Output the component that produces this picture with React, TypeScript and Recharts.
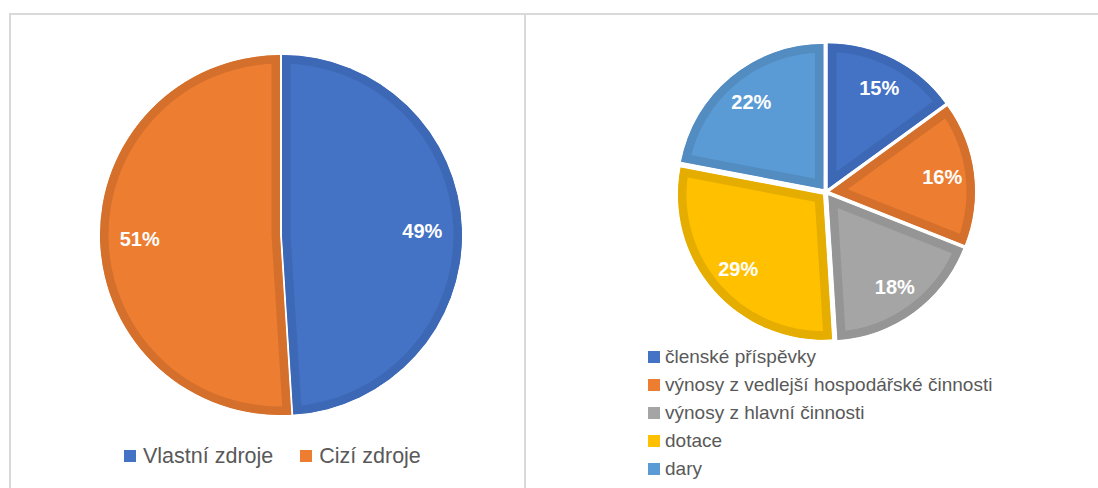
import React from "react";
import { PieChart, Pie, Sector, Legend } from "recharts";

// zdroje financování
const sourceNames = ["Vlastní zdroje", "Cizí zdroje"];
const sourceValues = [49, 51];
const sourceColors = ["#4472C4", "#ED7D31"];
const sourceBorders = ["#3D68B5", "#D4702C"];

// struktura výnosů
const incomeNames = [
  "členské příspěvky",
  "výnosy z vedlejší hospodářské činnosti",
  "výnosy z hlavní činnosti",
  "dotace",
  "dary",
];
const incomeValues = [15, 16, 18, 29, 22];
const incomeColors = ["#4472C4", "#ED7D31", "#A5A5A5", "#FFC000", "#5B9BD5"];
const incomeBorders = ["#3D68B5", "#D4702C", "#959595", "#E5AD00", "#528CC0"];

const FONT = "'Liberation Sans', Arial, sans-serif";
const RAD = Math.PI / 180;

// draws an exploded slice with an inner darker border, plus the % label
function sliceLabel(key: string, colors: string[], borders: string[], explode: number, labelPos: number) {
  return (p: any) => {
    const { cx, cy, outerRadius, startAngle, endAngle, midAngle, percent, index } = p;
    const ox = cx + explode * Math.cos(-midAngle * RAD);
    const oy = cy + explode * Math.sin(-midAngle * RAD);
    const lr = outerRadius * labelPos;
    const lx = ox + lr * Math.cos(-midAngle * RAD);
    const ly = oy + lr * Math.sin(-midAngle * RAD);
    const id = `${key}-clip-${index}`;
    return (
      <g>
        <defs>
          <clipPath id={id}>
            <Sector cx={ox} cy={oy} innerRadius={0} outerRadius={outerRadius} startAngle={startAngle} endAngle={endAngle} />
          </clipPath>
        </defs>
        <g clipPath={`url(#${id})`}>
          <Sector
            cx={ox}
            cy={oy}
            innerRadius={0}
            outerRadius={outerRadius}
            startAngle={startAngle}
            endAngle={endAngle}
            fill={colors[index]}
            stroke={borders[index]}
            strokeWidth={17}
          />
        </g>
        <text
          x={lx}
          y={ly}
          fill="#fff"
          textAnchor="middle"
          dominantBaseline="central"
          fontFamily={FONT}
          fontWeight="bold"
          fontSize={20}
        >
          {`${Math.round(percent * 100)}%`}
        </text>
      </g>
    );
  };
}

function LegendList({ names, colors, horizontal, fontSize, rowHeight }: any) {
  return (
    <div style={{ display: "flex", flexDirection: horizontal ? "row" : "column", gap: horizontal ? 27 : 0 }}>
      {names.map((n: string, i: number) => (
        <div key={n} style={{ display: "flex", alignItems: "center", height: rowHeight, whiteSpace: "nowrap" }}>
          <span style={{ width: 12, height: 12, background: colors[i], marginRight: horizontal ? 7 : 5, display: "inline-block" }} />
          <span style={{ color: "#595959", fontFamily: FONT, fontSize }}>{n}</span>
        </div>
      ))}
    </div>
  );
}

export default function App() {
  const sourceData = sourceNames.map((name, i) => ({ name, value: sourceValues[i] }));
  const incomeData = incomeNames.map((name, i) => ({ name, value: incomeValues[i] }));

  return (
    <div style={{ position: "absolute", left: 0, top: 0, width: 1098, height: 488, background: "#fff", overflow: "hidden" }}>
      <div style={{ position: "absolute", left: 9, top: 13, width: 1089, height: 2, background: "#d9d9d9" }} />
      <div style={{ position: "absolute", left: 9, top: 13, width: 2, height: 475, background: "#d9d9d9" }} />
      <div style={{ position: "absolute", left: 524, top: 13, width: 2, height: 475, background: "#d9d9d9" }} />

      <div style={{ position: "absolute", left: 10, top: 15 }}>
        <PieChart width={514} height={473}>
          <Pie
            data={sourceData}
            dataKey="value"
            nameKey="name"
            cx={266}
            cy={215}
            outerRadius={180}
            startAngle={90}
            endAngle={-270}
            fill="none"
            stroke="none"
            labelLine={false}
            label={sliceLabel("src", sourceColors, sourceBorders, 1, 0.78)}
            isAnimationActive={false}
          />
          <Legend
            content={() => <LegendList names={sourceNames} colors={sourceColors} horizontal fontSize={21.5} rowHeight={26} />}
            wrapperStyle={{ left: 114, top: 428 }}
          />
        </PieChart>
      </div>

      <div style={{ position: "absolute", left: 526, top: 15 }}>
        <PieChart width={572} height={473}>
          <Pie
            data={incomeData}
            dataKey="value"
            nameKey="name"
            cx={295}
            cy={172}
            outerRadius={145}
            startAngle={90}
            endAngle={-270}
            fill="none"
            stroke="none"
            labelLine={false}
            label={sliceLabel("inc", incomeColors, incomeBorders, 4, 0.78)}
            isAnimationActive={false}
          />
          <Legend
            content={() => <LegendList names={incomeNames} colors={incomeColors} fontSize={19} rowHeight={28} />}
            wrapperStyle={{ left: 122, top: 328 }}
          />
        </PieChart>
      </div>
    </div>
  );
}
